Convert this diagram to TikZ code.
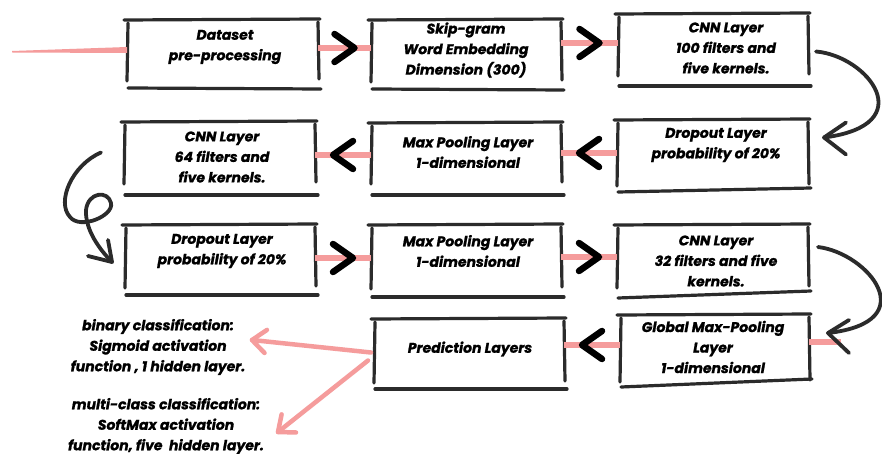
\documentclass[tikz,border=0pt]{standalone}
\usepackage{fontspec}
\setmainfont{Poppins}[BoldItalicFeatures={FakeBold=1.2}]
\usetikzlibrary{calc}
\definecolor{ink}{HTML}{2B2B2B}
\definecolor{salmon}{HTML}{F59C9C}
\tikzset{
  frame/.style={inner sep=0pt, outer sep=0pt, draw=none},
  lbl/.style={font=\fontsize{14}{20.5}\selectfont\bfseries\itshape, align=center, inner sep=0pt},
  edge/.style={draw=ink, line width=3.2pt, line cap=round},
  pinkline/.style={draw=salmon, line width=6pt},
  chev/.style={draw=black, line width=6.5pt, line cap=round, line join=round},
  curve/.style={draw=ink, line width=3.8pt, line cap=round, line join=round},
  pinkarrow/.style={draw=salmon, line width=4.5pt, line cap=round, line join=round},
}
% hand-drawn box: name, left, top, right, bottom of sides, gap to base line, tilt of base line
\newcommand\skbox[7]{%
  \node[frame, minimum width={(#4-#2)*1pt}, minimum height={(#5-#3)*1pt}] (#1) at ({(#2+#4)/2},{(#3+#5)/2}) {};
  \draw[edge] ($(#1.north west)+(-3,0)$) -- ($(#1.north east)+(2,-1)$);
  \draw[edge] ($(#1.north west)+(1,3)$) -- ($(#1.south west)+(0,1)$);
  \draw[edge] ($(#1.north east)+(0,2)$) -- ($(#1.south east)+(1,-1)$);
  \draw[edge] ($(#1.south west)+(1,#6)$) -- ($(#1.south east)+(3,#6+#7)$);
}
\newcommand\chevR[1]{\draw[chev] ($(#1)+(-10,-14)$) -- ($(#1)+(10,0)$) -- ($(#1)+(-10,14)$);}
\newcommand\chevL[1]{\draw[chev] ($(#1)+(10,-14)$) -- ($(#1)+(-10,0)$) -- ($(#1)+(10,14)$);}
\begin{document}
\begin{tikzpicture}[x=1pt,y=-1pt]
\fill[white] (0,0) rectangle (882,454);
\useasboundingbox (0,0) rectangle (882,454);

% frames
\skbox{b1}{127}{20}{318}{80}{8}{1}
\skbox{b2}{371}{20}{561}{81}{8}{1}
\skbox{b3}{618}{14}{808}{75}{11}{0}
\skbox{b4}{124}{122}{315}{183}{12}{0}
\skbox{b5}{371}{123}{561}{183}{12}{0}
\skbox{b6}{617}{120}{808}{185}{7}{-4}
\skbox{b7}{125}{225}{315}{287}{8}{0}
\skbox{b8}{371}{225}{561}{288}{9}{0}
\skbox{b9}{617}{225}{808}{287}{11}{-7}
\skbox{b10}{374}{319}{564}{382}{7}{0}
\skbox{b11}{620}{315}{809}{381}{6}{-8}

% labels
\node[lbl] (t1) at (225,47) {Dataset\\pre-processing};
\node[lbl] (t2) at (466,50) {Skip-gram\\Word Embedding\\Dimension (300)};
\node[lbl] (t3) at (726,48) {CNN Layer\\100 filters and\\five kernels.};
\node[lbl] (t4) at (222,157) {CNN Layer\\64 filters and\\five kernels.};
\node[lbl] (t5) at (468,152) {Max Pooling Layer\\1-dimensional};
\node[lbl] (t6) at (716,145) {Dropout Layer\\probability of 20\%};
\node[lbl] (t7) at (222,251) {Dropout Layer\\probability of 20\%};
\node[lbl] (t8) at (468,251) {Max Pooling Layer\\1-dimensional};
\node[lbl] (t9) at (716,261) {CNN Layer\\32 filters and five\\kernels.};
\node[lbl] (t10) at (470,349) {Prediction Layers};
\node[lbl] (t11) at (713,347) {Global Max-Pooling\\Layer\\1-dimensional};
\node[lbl] (tbin) at (158,347) {binary classification:\\Sigmoid activation\\function , 1 hidden layer.};
\node[lbl] (tmul) at (166,426) {multi-class classification:\\SoftMax activation\\function, five~ hidden layer.};

% incoming line
\coordinate (src) at (12,51);
\fill[salmon] (src) -- ($(b1.west)+(0,-3)$) -- ($(b1.west)+(0,3)$) -- ($(src)+(0,1.5)$) -- cycle;

% pink connectors with chevrons
\draw[pinkline] (b1.east |- 0,48) -- coordinate[pos=.5] (m1) (b2.west |- 0,48);
\draw[pinkline] (b2.east |- 0,43) -- coordinate[pos=.5] (m2) (b3.west |- 0,43);
\draw[pinkline] (b5.west |- 0,155) -- coordinate[pos=.5] (m3) (b4.east |- 0,155);
\draw[pinkline] (b6.west |- 0,153) -- coordinate[pos=.5] (m4) (b5.east |- 0,153);
\draw[pinkline] (b7.east |- 0,258) -- coordinate[pos=.5] (m5) (b8.west |- 0,258);
\draw[pinkline] (b8.east |- 0,257) -- coordinate[pos=.5] (m6) (b9.west |- 0,257);
\draw[pinkline] (b11.west |- 0,345) -- coordinate[pos=.5] (m7) (b10.east |- 0,345);
\coordinate (stub) at (841,342);
\draw[pinkline] (b11.east |- 0,342) -- (stub);
\chevR{m1} \chevR{m2} \chevL{m3} \chevL{m4} \chevR{m5} \chevR{m6} \chevL{m7}

% curved turns between rows
\coordinate (c1s) at ($(b3.east)+(8,7)$);
\coordinate (c1e) at ($(b6.east)+(16,-15)$);
\draw[curve] (c1s) .. controls (868,56) and (922,125) .. (c1e);
\draw[curve] ($(c1e)+(22,-15)$) -- (c1e) -- ($(c1e)+(22,17)$);

\coordinate (c2s) at ($(b9.east)+(10,-9)$);
\coordinate (c2e) at ($(b11.east)+(19,-15)$);
\draw[curve] (c2s) .. controls (868,253) and (925,322) .. (c2e);
\draw[curve] ($(c2e)+(21,-13)$) -- (c2e) -- ($(c2e)+(21,20)$);

\coordinate (c3s) at ($(b4.west)+(-23,0)$);
\coordinate (c3e) at ($(b7.west)+(-13,6)$);
\draw[curve] (c3s) .. controls (72,165) and (56,202) .. (70,217)
  .. controls (80,230) and (114,216) .. (111,203)
  .. controls (108,190) and (88,192) .. (86,210)
  .. controls (85,230) and (100,250) .. (c3e);
\draw[curve] ($(c3e)+(-24,-6)$) -- (c3e) -- ($(c3e)+(-4,-22)$);

% outputs of the prediction layers
\coordinate (pas) at ($(b10.west)+(-3,2)$);
\coordinate (pa) at (252,340);
\draw[pinkarrow] (pas) -- (pa);
\draw[pinkarrow] ($(pa)!18pt!40:(pas)$) -- (pa) -- ($(pa)!18pt!-40:(pas)$);
\coordinate (pbs) at ($(b10.west)+(-6,10)$);
\coordinate (pb) at (278,432);
\draw[pinkarrow] (pbs) -- (pb);
\draw[pinkarrow] ($(pb)!18pt!40:(pbs)$) -- (pb) -- ($(pb)!18pt!-40:(pbs)$);
\end{tikzpicture}
\end{document}
